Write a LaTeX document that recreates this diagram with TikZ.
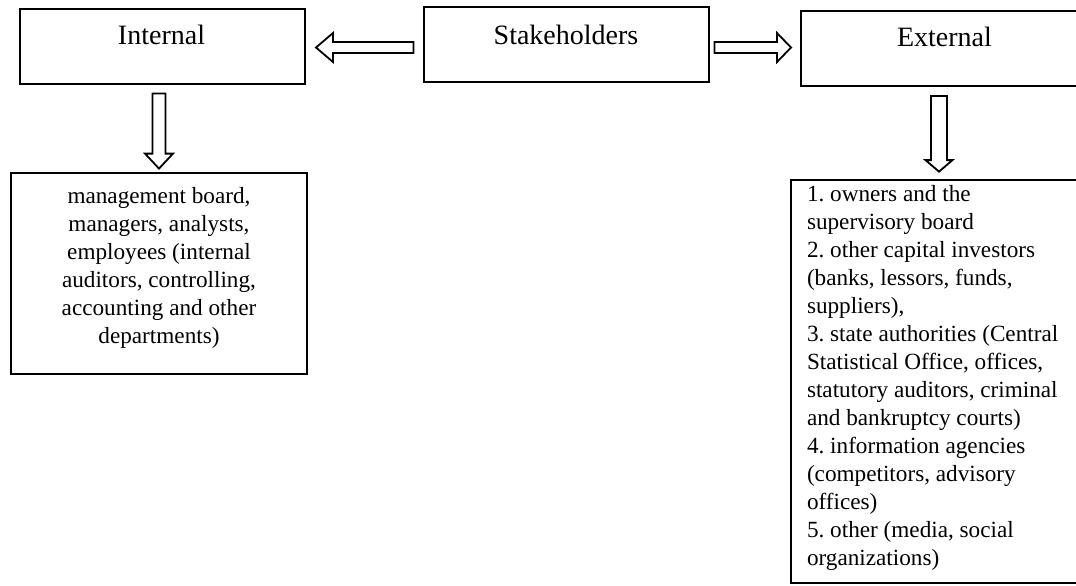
\documentclass[tikz,border=0pt]{standalone}
\usepackage{fontspec}
\setmainfont{Liberation Serif}
\usetikzlibrary{calc}
\frenchspacing
\newcommand\blockarrow[5]{% tail, tip, shaft half, head half, head length (pt)
  \coordinate (hb) at ($(#2)!#5!(#1)$);
  \draw[blockarr] ($(#1)!#3!90:(hb)$) -- ($(hb)!#3!90:(#2)$) -- ($(hb)!#4!90:(#2)$) -- (#2)
    -- ($(hb)!#4!-90:(#2)$) -- ($(hb)!#3!-90:(#2)$) -- ($(#1)!#3!-90:(hb)$) -- cycle;
}
\begin{document}
\begin{tikzpicture}[x=0.5pt,y=-0.5pt,
  topbox/.style={draw, line width=1pt, minimum width=142.5pt, minimum height=37.5pt, inner sep=0pt},
  listbox/.style={draw, line width=1.4pt, minimum width=148pt, inner sep=0pt},
  head/.style={font=\fontsize{14}{16}\selectfont, anchor=base, inner sep=0pt},
  listtext/.style={font=\fontsize{11.6}{14}\selectfont, inner sep=0pt},
  blockarr/.style={draw, line width=0.9pt, line join=miter, fill=white}]
\fill[white] (0,0) rectangle (1076,585);
\useasboundingbox (0,0) rectangle (1076,585);

% boxes
\node[topbox] (internal) at (162.5,46) {};
\node[topbox] (stake) at (566,44.5) {};
\node[topbox, minimum width=143.5pt] (external) at (944.5,48.5) {};
\node[listbox, minimum height=100.5pt] (intlist) at (159,273.5) {};
\node[listbox, minimum height=201.5pt] (extlist) at (939,381.5) {};

% labels
\node[head] (tInternal) at ($(internal.north)+(-1,37)$) {Internal};
\node[head] (tStake) at ($(stake.north)+(0,38)$) {Stakeholders};
\node[head] (tExternal) at ($(external.north)+(0,36)$) {External};

\node[listtext, align=center, anchor=north] (tIntList) at ($(intlist.north)+(0,15)$)
  {management board,\\ managers, analysts,\\ employees (internal\\ auditors, controlling,\\ accounting and other\\ departments)};
\node[listtext, align=left, anchor=north west] (tExtList) at ($(extlist.north west)+(17,6.5)$)
  {1. owners and the\\ supervisory board\\ 2. other capital investors\\ (banks, lessors, funds,\\ suppliers),\\ 3. state authorities (Central\\ Statistical Office, offices,\\ statutory auditors, criminal\\ and bankruptcy courts)\\ 4. information agencies\\ (competitors, advisory\\ offices)\\ 5. other (media, social\\ organizations)};

% block arrows
\coordinate (la1) at ($(stake.west)+(-9,3)$);
\coordinate (la2) at ($(la1 -| internal.east)+(10,0)$);
\blockarrow{la1}{la2}{2.75pt}{7.25pt}{8.5pt}

\coordinate (ra1) at ($(stake.east)+(5,3)$);
\coordinate (ra2) at ($(ra1 -| external.west)+(-9,0)$);
\blockarrow{ra1}{ra2}{2.75pt}{7.25pt}{7pt}

\coordinate (da1) at ($(intlist.north |- internal.south)+(0,9)$);
\coordinate (da2) at ($(intlist.north)+(0,-3)$);
\blockarrow{da1}{da2}{3.25pt}{7pt}{7.5pt}

\coordinate (db1) at ($(extlist.north |- external.south)+(0,9)$);
\coordinate (db2) at ($(extlist.north)+(0,-7)$);
\blockarrow{db1}{db2}{4pt}{6.75pt}{5.75pt}
\end{tikzpicture}
\end{document}
